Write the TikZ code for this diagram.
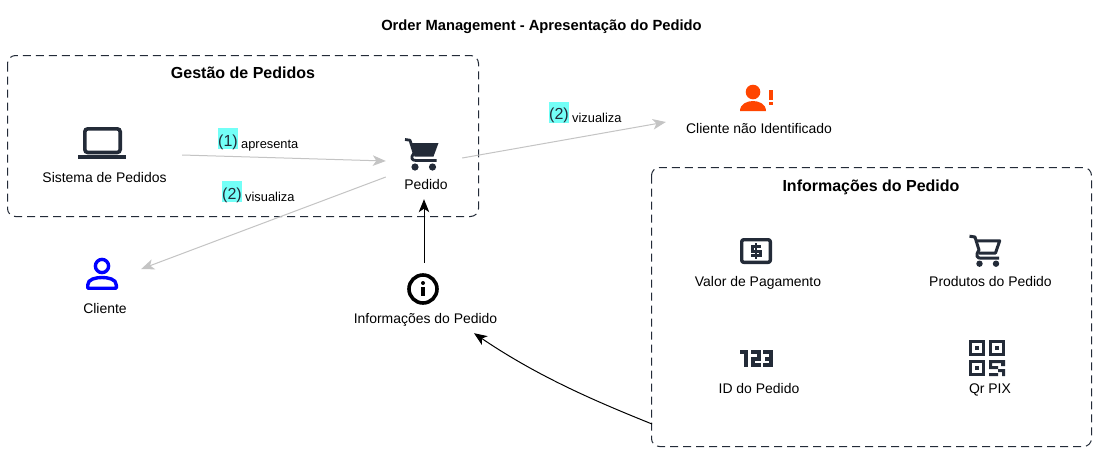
\documentclass[tikz,border=0pt]{standalone}
\usepackage{fontspec}
\setmainfont{Liberation Sans}
\usetikzlibrary{arrows.meta}
\definecolor{ink}{HTML}{232B38}
\definecolor{grayline}{HTML}{C4C4C4}
\definecolor{hl}{HTML}{73FFF7}
\definecolor{orangeicon}{HTML}{FF4500}
\tikzset{
  x=1pt,y=-1pt,
  grp/.style={draw=ink,line width=1pt,dash pattern=on 8pt off 5pt,rounded corners=8pt},
  grptitle/.style={font=\fontsize{16}{18}\selectfont\bfseries,inner sep=0pt,anchor=base},
  lab/.style={font=\fontsize{13.95}{16}\selectfont,inner sep=0pt,text=black,anchor=base},
  holder/.style={inner sep=0pt,draw=none},
  tip/.style={-{Stealth[length=13pt,width=10.5pt,inset=3.5pt]}},
  weak/.style={grayline,line width=1pt,tip},
  strong/.style={black,line width=1pt,tip},
  num/.style={font=\fontsize{16}{18}\selectfont,fill=hl,inner sep=0pt,text=ink,text height=18pt,text depth=3pt,anchor=base west},
  verb/.style={font=\fontsize{12.85}{14}\selectfont,inner sep=0pt,text=black,anchor=base west},
  outl/.style={draw=ink,line width=3.4pt,line join=round},
}
\begin{document}
\begin{tikzpicture}
\useasboundingbox (0,0) rectangle (1096,451);
\fill[white] (0,0) rectangle (1096,451);
\node[font=\fontsize{14.75}{16}\selectfont\bfseries,inner sep=0pt,anchor=base] (title) at (541.5,30) {Order Management - Apresentação do Pedido};
% groups
\draw[grp] (7.5,55.5) rectangle (478.5,216.5);
\node[grptitle] (g1title) at (243,78.5) {Gestão de Pedidos};
\draw[grp] (651.5,167.5) rectangle (1091.5,446.5);
\node[grptitle] (g2title) at (871,191.5) {Informações do Pedido};
% element holders (invisible, used as connector ends)
\node[holder,minimum width=154pt,minimum height=60pt] (sistema) at (105,155) {};
\node[holder,minimum width=76pt,minimum height=63pt] (pedido) at (424,167.5) {};
\node[holder,minimum width=60pt,minimum height=60pt] (cliente) at (111,269) {};
\node[holder,minimum width=150pt,minimum height=60pt] (naoid) at (741,122) {};
\node[holder,minimum width=160pt,minimum height=70pt] (infos) at (424,298) {};
\coordinate (grp2edge) at (652,424);
% labels
\node[lab] (lsis) at (104.5,182) {Sistema de Pedidos};
\node[lab] (lped) at (426,189) {Pedido};
\node[lab] (lcli) at (105,313) {Cliente};
\node[lab] (lnao) at (759,133) {Cliente não Identificado};
\node[lab] (linf) at (425.5,323) {Informações do Pedido};
\node[lab] (lval) at (758,286) {Valor de Pagamento};
\node[lab] (lpro) at (990.5,286) {Produtos do Pedido};
\node[lab] (lid) at (759,393) {ID do Pedido};
\node[lab] (lqr) at (990,393) {Qr PIX};
% laptop
\draw[ink,line width=3.6pt,rounded corners=3pt] (84.8,128.8) rectangle (120.2,152.5);
\fill[ink] (78,155) rectangle (126,159);
% filled cart
\draw[ink,line width=2.8pt,line join=round] (405,139.5) -- (410,140.2) -- (414,153) .. controls (410,158) and (412,160.5) .. (416,160.5) -- (436.5,160.5);
\fill[ink] (411,143) -- (438.5,143) -- (433.5,156.5) -- (414.5,156.5) -- cycle;
\fill[ink] (415,167) circle (3.6);
\fill[ink] (432.5,167) circle (3.6);
% orange person
\fill[orangeicon] (753,92) circle (7.3);
\fill[orangeicon] (740,111) .. controls (740,104) and (747,101) .. (753,101) .. controls (759,101) and (766,104) .. (766,111) -- cycle;
\fill[orangeicon] (769,90) rectangle (772.5,100);
\fill[orangeicon] (769,102) rectangle (772.5,105);
% blue person
\draw[blue,line width=3.4pt] (102,266) circle (6.6);
\draw[blue,line width=3.4pt,line join=round] (87.7,288.2) -- (87.7,285) .. controls (87.7,279) and (96,277.5) .. (102,277.5) .. controls (108,277.5) and (116.3,279) .. (116.3,285) -- (116.3,288.2) -- cycle;
% info
\draw[black,line width=3.6pt] (423,289) circle (14);
\fill[black] (423,283) circle (2);
\fill[black] (421.2,287) rectangle (424.8,296);
% dollar
\draw[outl,rounded corners=2pt] (741.7,239.7) rectangle (770.3,262.3);
\draw[ink,line width=3pt,line join=miter] (761,246.5) -- (752.5,246.5) -- (752.5,251) -- (760,251) -- (760,255.5) -- (751,255.5);
\draw[ink,line width=2.4pt] (756,243) -- (756,259);
% outlined cart
\draw[ink,line width=3pt,line join=round] (969.5,236.2) -- (975,237) -- (979,250) .. controls (975,256) and (977,258.2) .. (981,258.2) -- (999,258.2);
\draw[ink,line width=3pt,line join=round] (976,240.8) -- (999.7,240.8) -- (995.5,253) -- (979,253);
\fill[ink] (979.5,263.7) circle (3.2);
\fill[ink] (996,263.7) circle (3.2);
% 123
\draw[ink,line width=4pt,line join=miter]
 (740,352.3) -- (746,352.3) -- (746,367);
\draw[ink,line width=4pt,line join=miter]
 (751,352.3) -- (758.5,352.3) -- (758.5,358.5) -- (752.8,358.5) -- (752.8,364.8) -- (760.5,364.8);
\draw[ink,line width=4pt,line join=miter]
 (763,352.3) -- (771,352.3) -- (771,364.8) -- (763,364.8) (765,358.5) -- (771,358.5);
% QR
\draw[ink,line width=3pt] (970.5,341.5) rectangle (983.5,354.5);
\draw[ink,line width=3pt] (990.5,341.5) rectangle (1003.5,354.5);
\draw[ink,line width=3pt] (970.5,361.5) rectangle (983.5,374.5);
\fill[ink] (975,346) rectangle (979,350);
\fill[ink] (995,346) rectangle (999,350);
\fill[ink] (975,366) rectangle (979,370);
\fill[ink] (989,360) rectangle (1001,363) (1001,360) rectangle (1005,366) (989,360) rectangle (992,369)
  (992,366) rectangle (998,369) (998,369) rectangle (1005,372) (1002,369) rectangle (1005,376) (989,373) rectangle (998,376);
% connectors
\draw[weak] (sistema.east) -- ([yshift=6.5pt]pedido.west);
\draw[weak] ([yshift=-9.5pt]pedido.west) -- (cliente.east);
\draw[weak] ([yshift=9.5pt]pedido.east) -- (naoid.west);
\draw[strong] (infos.north) -- (pedido.south);
\draw[strong] (grp2edge) .. controls (600,403) and (540,378) .. ([xshift=50pt,yshift=0pt]infos.south);
% connector labels
\node[num] (n1) at (218,146) {(1)};
\node[verb] (t1) at (241,148.5) {apresenta};
\node[num] (n2) at (222,199.3) {(2)};
\node[verb] (t2) at (245,201) {visualiza};
\node[num] (n3) at (549,119.7) {(2)};
\node[verb] (t3) at (572,122) {vizualiza};
\end{tikzpicture}
\end{document}
